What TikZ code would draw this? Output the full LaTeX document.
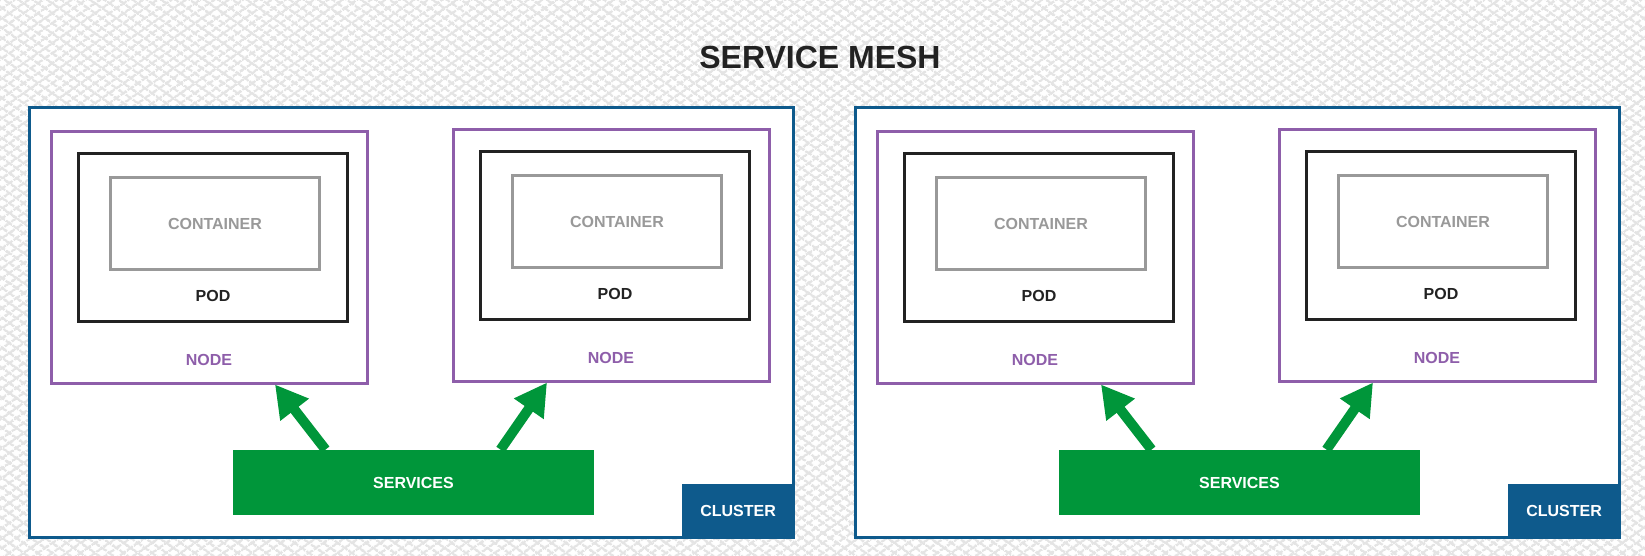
\documentclass[tikz,border=0pt]{standalone}
\usepackage{fontspec}
\setmainfont{Liberation Sans}
\usetikzlibrary{arrows.meta,calc,patterns.meta}
\definecolor{clblue}{HTML}{0E5A8C}
\definecolor{ndpurple}{HTML}{8E5EAA}
\definecolor{svgreen}{HTML}{00963A}
\definecolor{podblack}{HTML}{222222}
\definecolor{ctgray}{HTML}{999999}
\definecolor{meshgray}{HTML}{E4E4E4}
\begin{document}
\begin{tikzpicture}[x=0.5pt,y=-0.5pt,>={Triangle[length=16pt,width=17pt]},
    lbl/.style={font=\bfseries\fontsize{8}{10}\selectfont,inner sep=0pt},
    clbox/.style={draw=clblue,line width=1.5pt,fill=white,inner sep=0pt,minimum width=382pt,minimum height=214.5pt},
    clab/.style={lbl,fill=clblue,text=white,minimum width=56pt,minimum height=27pt},
    ndbox/.style={draw=ndpurple,line width=1.5pt,minimum width=158pt,minimum height=125.5pt},
    podbox/.style={draw=podblack,line width=1.5pt,minimum width=134.5pt,minimum height=83.5pt},
    ctbox/.style={draw=ctgray,line width=1.5pt,lbl,text=ctgray,minimum width=104.5pt,minimum height=45.5pt},
    svbox/.style={lbl,fill=svgreen,text=white,minimum width=180.5pt,minimum height=32.5pt},
    svarrow/.style={->,draw=svgreen,fill=svgreen,line width=5pt}]
\useasboundingbox (0,0) rectangle (1645,556);
% mesh background
\fill[white] (0,0) rectangle (1645,556);
\fill[pattern={Lines[angle=35,distance=4pt,line width=1.3pt]},pattern color=meshgray] (0,0) rectangle (1645,556);
\fill[pattern={Lines[angle=-35,distance=4pt,line width=1.3pt]},pattern color=meshgray] (0,0) rectangle (1645,556);
\node[lbl,font=\bfseries\fontsize{16}{19}\selectfont,text=podblack] (title) at (820,57) {SERVICE MESH};
\foreach \c/\dx in {a/0,b/826}
{
    \node[clbox] (cl\c) at (411+\dx,322.5) {};
    \node[clab,anchor=south east] (clab\c) at (cl\c.south east) {CLUSTER};
    \foreach \i/\nx/\ny in {1/209/257.5,2/611/255.5}
    {
        \node[ndbox] (nd\c\i) at (\nx+\dx,\ny) {};
        \node[podbox] (pd\c\i) at (\nx+\dx+4,\ny-20) {};
        \node[ctbox] (ct\c\i) at (\nx+\dx+6,\ny-34) {CONTAINER};
        \node[lbl,text=podblack] (pdt\c\i) at ($(pd\c\i.south)+(0,-27)$) {POD};
        \node[lbl,text=ndpurple] (ndt\c\i) at ($(nd\c\i.south)+(0,-25)$) {NODE};
    }
    \node[svbox] (sv\c) at (413.5+\dx,482.5) {SERVICES};
    \draw[svarrow] ($(sv\c.north)+(-88,0)$) -- ($(nd\c1.south)+(66,0)$);
    \draw[svarrow] ($(sv\c.north)+(87,0)$) -- ($(nd\c2.south)+(-64,0)$);
}
\end{tikzpicture}
\end{document}
